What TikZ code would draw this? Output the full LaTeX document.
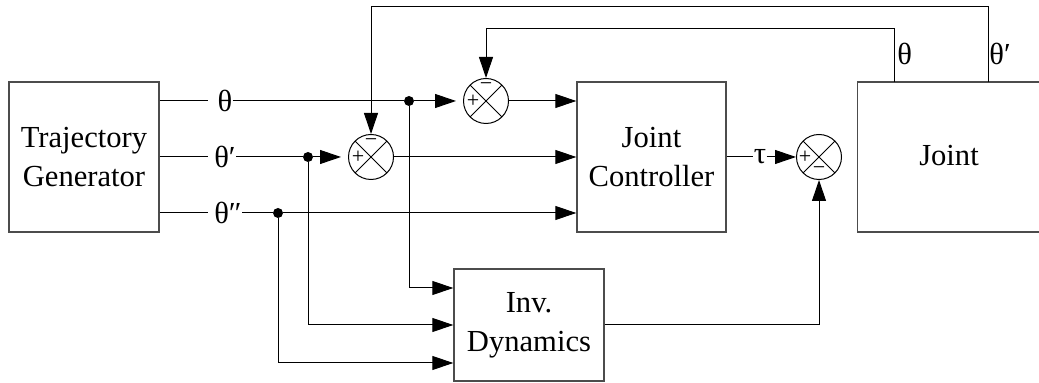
\documentclass[tikz,border=0pt]{standalone}
\usepackage{fontspec}
\setmainfont{Liberation Serif}
\newfontfamily\tnr{Liberation Serif}
\usetikzlibrary{arrows.meta,calc}
\begin{document}
\begin{tikzpicture}[x=0.5pt,y=-0.5pt,
  blk/.style={draw=black!70, line width=0.7pt, rectangle, inner sep=0, align=center, font=\tnr\fontsize{15.3}{19.5}\selectfont},
  sumj/.style={draw, circle, line width=0.5pt, minimum size=22.5pt, inner sep=0,
    path picture={\draw[line width=0.5pt] (path picture bounding box.south west) -- (path picture bounding box.north east)
      (path picture bounding box.north west) -- (path picture bounding box.south east);}},
  conn/.style={line width=0.5pt},
  arr/.style={conn, -{Triangle[length=10.5pt,width=7pt]}},
  sig/.style={inner sep=0, font=\tnr\fontsize{11}{12}\selectfont},
  lbl/.style={inner sep=0, font=\tnr\fontsize{15.3}{18}\selectfont},
  dot/.style={circle, fill, inner sep=0, minimum size=5pt}
]
\useasboundingbox (0,0) rectangle (1039,383);

% blocks
\node[blk, minimum width=75pt, minimum height=75pt] (tg) at (84,157) {Trajectory\\Generator};
\node[blk, minimum width=74.5pt, minimum height=75pt] (jc) at (651.5,157) {Joint\\Controller};
\node[blk, minimum width=75pt, minimum height=56pt] (id) at (529,325) {Inv.\\Dynamics};
\node[blk, minimum width=101.5pt, minimum height=75pt, anchor=west] (joint) at (857,157) {};
\node[lbl] (jointtxt) at (949,156) {Joint};

% summing junctions
\node[sumj] (s1) at (486,101) {};
\node[sumj] (s2) at (371,157) {};
\node[sumj] (s3) at (819,157) {};
\node[sig] (s1p) at ($(s1)+(-13,0)$) {+};
\node[sig] (s1m) at ($(s1)+(0,-14)$) {−};
\node[sig] (s2p) at ($(s2)+(-13,0)$) {+};
\node[sig] (s2m) at ($(s2)+(0,-14)$) {−};
\node[sig] (s3p) at ($(s3)+(-14,0)$) {+};
\node[sig] (s3m) at ($(s3)+(0,14)$) {−};

% branch dots
\node[dot] (d1) at (409,101) {};
\node[dot] (d2) at (308,157) {};
\node[dot] (d3) at (278,213) {};

% signal labels
\node[lbl] (l1) at (225,101) {θ};
\node[lbl] (l2) at (225,157) {θ′};
\node[lbl] (l3) at (228,213) {θ″};
\coordinate (g1) at (208,101);
\coordinate (g2) at (208,157);
\coordinate (g3) at (208,213);

% trajectory outputs
\draw[conn] (tg.east |- g1) -- (g1);
\draw[conn] (tg.east |- g2) -- (g2);
\draw[conn] (tg.east |- g3) -- (g3);
\draw[conn] (l1.east) -- (d1);
\draw[conn] (l2.east) -- (d2);
\draw[conn] (l3.east) -- (d3);

\draw[arr, shorten >=3.5pt] (d1) -- (s1);
\draw[arr] (s1) -- (s1 -| jc.west);
\draw[arr, shorten >=3.5pt] (d2) -- (s2);
\draw[arr] (s2) -- (s2 -| jc.west);
\draw[arr] (d3) -- (d3 -| jc.west);

% torque
\node[lbl] (tau) at (760,157) {τ};
\draw[conn] (jc.east) -- (tau.west);
\draw[arr] (tau.east) -- (s3);

% inverse dynamics
\draw[arr] (d1) |- ($(id.west)+(0,-37)$);
\draw[arr] (d2) |- (id.west);
\draw[arr] (d3) |- ($(id.west)+(0,38)$);
\draw[arr] (id.east) -| (s3.south);

% feedback
\coordinate (jt1) at (894,82);
\coordinate (jt2) at (988,82);
\draw[arr] (jt1) -- ++(0,-53) -| (s1.north);
\draw[arr] (jt2) -- ++(0,-75) -| (s2.north);
\node[lbl, anchor=west] (fbl1) at (897,54) {θ};
\node[lbl, anchor=west] (fbl2) at (989,54) {θ′};
\end{tikzpicture}
\end{document}
